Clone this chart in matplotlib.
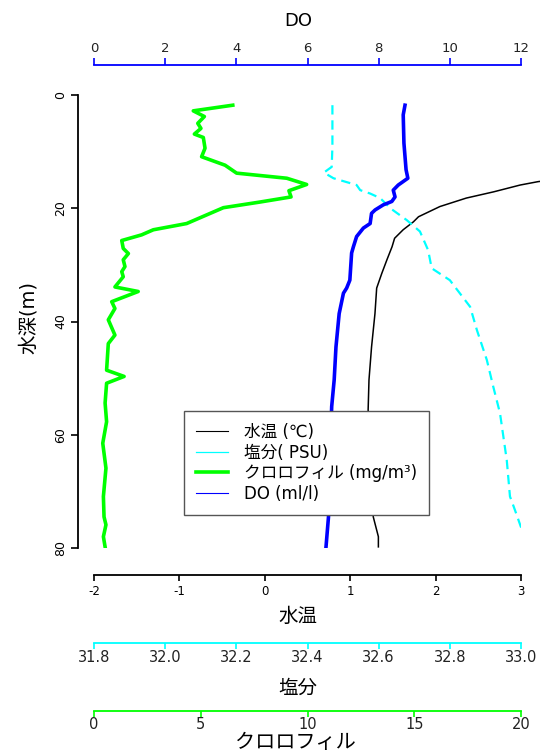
import numpy as np
import matplotlib
matplotlib.use("Agg")
import matplotlib.pyplot as plt
from matplotlib.lines import Line2D

plt.rcParams['font.family'] = ['DejaVu Sans', 'Noto Sans CJK JP']

# chlorophyll (mg/m3)
chl_depth = [1.8, 2.8, 3.8, 5.0, 5.9, 6.9, 7.5, 9.4, 10.9, 12.4, 13.8, 14.7, 15.8, 16.9, 18.0,
             18.9, 19.9, 22.7, 23.8, 24.7, 25.7, 27.1, 28.0, 29.1, 30.3, 31.2, 32.1, 33.9, 34.7,
             36.5, 37.7, 39.7, 42.4, 43.9, 48.6, 49.7, 50.9, 54.4, 57.7, 61.5, 65.9, 70.9, 74.5,
             75.9, 78.0, 79.8]
chl = [6.5, 4.65, 5.17, 4.86, 5.01, 4.70, 5.12, 5.20, 5.04, 6.14, 6.68, 9.03, 9.96, 9.13, 9.23,
       7.78, 6.06, 4.34, 2.78, 2.23, 1.30, 1.37, 1.61, 1.37, 1.45, 1.30, 1.37, 0.98, 2.07,
       0.83, 0.98, 0.67, 0.98, 0.67, 0.59, 1.41, 0.59, 0.52, 0.59, 0.41, 0.56, 0.44, 0.47,
       0.56, 0.44, 0.52]

# DO (ml/l)
do_depth = [1.8, 3.5, 8.5, 13.2, 14.7, 15.9, 16.8, 18.0, 18.8, 19.4, 20.3, 20.9, 22.7, 23.5,
            25.0, 26.8, 27.9, 32.7, 34.1, 35.0, 38.6, 44.5, 50.3, 55.0, 64.0, 74.5, 79.8]
do = [8.74, 8.69, 8.71, 8.77, 8.82, 8.55, 8.41, 8.46, 8.37, 8.13, 7.90, 7.80, 7.76, 7.57,
      7.38, 7.29, 7.24, 7.19, 7.10, 7.01, 6.89, 6.80, 6.75, 6.68, 6.63, 6.59, 6.52]

# salinity (PSU)
sal_depth = [1.8, 9.1, 12.7, 13.7, 14.7, 15.9, 16.8, 17.4, 18.2, 20.1, 22.1, 24.1, 27.4, 30.6,
             32.7, 37.4, 41.5, 46.8, 51.5, 56.2, 64.5, 70.9, 73.3, 77.4, 79.8]
sal = [32.470, 32.470, 32.468, 32.446, 32.473, 32.538, 32.548, 32.576, 32.604, 32.635, 32.679,
       32.716, 32.739, 32.749, 32.800, 32.857, 32.876, 32.904, 32.922, 32.941, 32.960, 32.969,
       32.983, 33.006, 33.006]

# water temperature (deg C)
temp_depth = [1.8, 8.0, 12.0, 14.0, 15.3, 15.9, 17.1, 18.2, 19.7, 21.5, 22.4, 23.8, 25.3, 26.8,
              29.1, 31.5, 34.1, 38.6, 44.5, 50.3, 55.6, 64.0, 74.5, 78.0, 79.8]
temp = [6.2, 5.6, 4.8, 3.9, 3.20, 2.99, 2.68, 2.36, 2.05, 1.80, 1.74, 1.62, 1.52, 1.49,
        1.43, 1.37, 1.31, 1.29, 1.25, 1.22, 1.21, 1.23, 1.27, 1.33, 1.33]

depth_ticks = [0, 20, 40, 60, 80]
temp_ticks = [-2, -1, 0, 1, 2, 3]
sal_ticks = [31.8, 32.0, 32.2, 32.4, 32.6, 32.8, 33.0]
chl_ticks = [0, 5, 10, 15, 20]
do_ticks = [0, 2, 4, 6, 8, 10, 12]

W, H = 540, 754
PT = 0.72  # points per pixel at 100 dpi

fig = plt.figure(figsize=(W / 100, H / 100), dpi=100)
ax = fig.add_axes([94 / W, 1 - 548 / H, 427 / W, 453 / H])
ax.patch.set_visible(False)


def one_spine(a, side, color, offset_px, lo, hi):
    for s in a.spines.values():
        s.set_visible(False)
    sp = a.spines[side]
    sp.set_visible(True)
    sp.set_color(color)
    sp.set_linewidth(1.3)
    sp.set_position(('outward', offset_px * PT))
    sp.set_bounds(lo, hi)


# depth + temperature on main axes
ax.set_ylim(80, 0)
ax.set_xlim(-2, 3)
for s in ax.spines.values():
    s.set_visible(False)
for side, off in [('left', 16), ('bottom', 27)]:
    sp = ax.spines[side]
    sp.set_visible(True)
    sp.set_color('black')
    sp.set_linewidth(1.3)
    sp.set_position(('outward', off * PT))
ax.spines['left'].set_bounds(0, 80)
ax.spines['bottom'].set_bounds(-2, 3)
ax.set_yticks(depth_ticks)
ax.set_xticks(temp_ticks)
ax.set_xticklabels([str(t) for t in temp_ticks])
ax.tick_params(axis='y', length=5, width=1.2, labelsize=9, pad=3)
ax.tick_params(axis='x', length=4, width=1.2, labelsize=8.5, pad=3)
plt.setp(ax.get_yticklabels(), rotation=90, va='center')

ax.plot(temp, temp_depth, color='black', lw=1.1, clip_on=False, zorder=3)

# salinity
ax_sal = ax.twiny()
ax_sal.set_xlim(31.8, 33.0)
ax_sal.xaxis.set_ticks_position('bottom')
one_spine(ax_sal, 'bottom', '#00FFFF', 95, 31.8, 33.0)
ax_sal.set_xticks(sal_ticks)
ax_sal.set_xticklabels(['%.1f' % t for t in sal_ticks])
ax_sal.tick_params(axis='x', colors='#00FFFF', labelcolor='#222222', length=4, width=1.2,
                   labelsize=10.5, pad=1)
ln, = ax_sal.plot(sal, sal_depth, color='#00FFFF', lw=1.6, zorder=2)
ln.set_dashes((4.2, 2.6))

# chlorophyll
ax_chl = ax.twiny()
ax_chl.set_xlim(0, 20)
ax_chl.xaxis.set_ticks_position('bottom')
one_spine(ax_chl, 'bottom', '#00FF00', 163, 0, 20)
ax_chl.set_xticks(chl_ticks)
ax_chl.tick_params(axis='x', colors='#00FF00', labelcolor='#222222', length=4, width=1.2,
                   labelsize=10.5, pad=0)
ax_chl.plot(chl, chl_depth, color='#00FF00', lw=2.6, zorder=2)

# DO
ax_do = ax.twiny()
ax_do.set_xlim(0, 12)
ax_do.xaxis.set_ticks_position('top')
one_spine(ax_do, 'top', '#0000FF', 30, 0, 12)
ax_do.set_xticks(do_ticks)
ax_do.tick_params(axis='x', colors='#0000FF', labelcolor='#222222', length=5, width=1.2,
                  labelsize=9.5, pad=2)
ax_do.plot(do, do_depth, color='#0000FF', lw=2.6, zorder=2)

# axis titles
fig.text(298 / W, 1 - 21 / H, 'DO', ha='center', va='center', fontsize=13)
fig.text(298 / W, 1 - 616 / H, '水温', ha='center', va='center', fontsize=14)
fig.text(298 / W, 1 - 688 / H, '塩分', ha='center', va='center', fontsize=14)
fig.text(295 / W, 1 - 742 / H, 'クロロフィル', ha='center', va='center', fontsize=14.5)
fig.text(28 / W, 1 - 318 / H, '水深(m)', ha='center', va='center', rotation=90, fontsize=14)

handles = [Line2D([], [], color='black', lw=0.8),
           Line2D([], [], color='#00FFFF', lw=0.9),
           Line2D([], [], color='#00FF00', lw=2.6),
           Line2D([], [], color='#0000FF', lw=0.8)]
labels = ['水温 (℃)', '塩分( PSU)', 'クロロフィル (mg/m³)', 'DO (ml/l)']
leg = fig.legend(handles, labels, loc='upper left', bbox_to_anchor=(184 / W, 1 - 411 / H),
                 borderaxespad=0, fancybox=False, framealpha=1, edgecolor='#555555',
                 fontsize=12, borderpad=0.72, handlelength=1.9, handletextpad=1.0,
                 labelspacing=0.15)
leg.get_frame().set_linewidth(1.0)

fig.savefig('out.png', dpi=100)
